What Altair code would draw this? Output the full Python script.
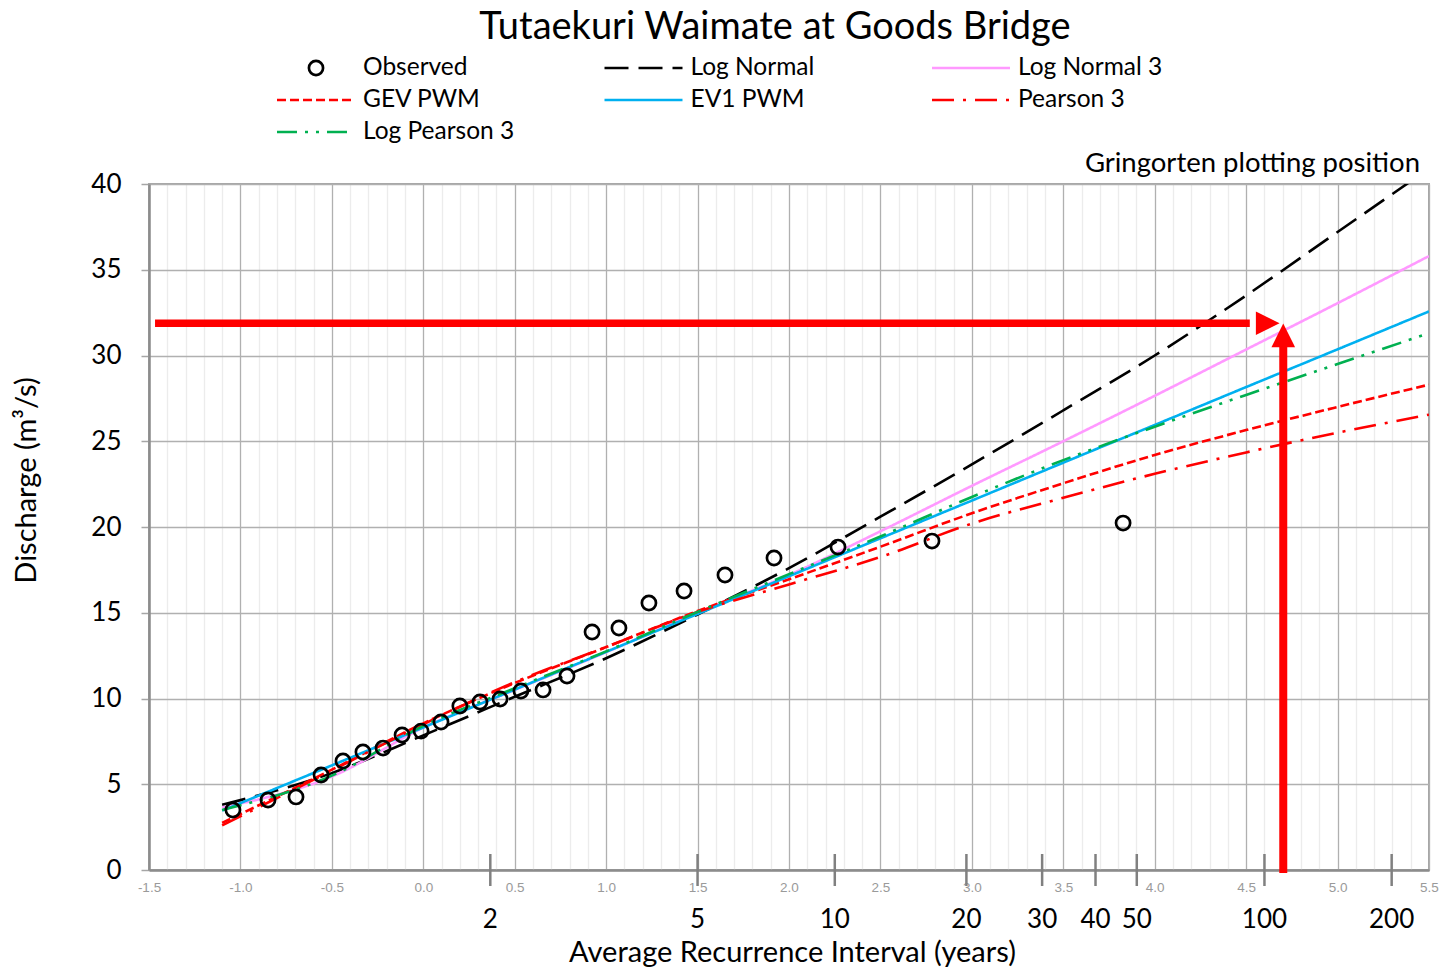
import altair as alt
import pandas as pd

# ---------------- text ----------------
title_text = "Tutaekuri Waimate at Goods Bridge"
x_title = "Average Recurrence Interval (years)"
y_title = "Discharge (m³/s)"
note_text = "Gringorten plotting position"

# ---------------- observed (Gumbel reduced variate, discharge) ----------------
obs_x = [-1.041, -0.849, -0.696, -0.559, -0.439, -0.330, -0.220, -0.116, -0.012, 0.097,
         0.200, 0.310, 0.420, 0.534, 0.655, 0.786, 0.923, 1.070, 1.234, 1.426,
         1.650, 1.918, 2.268, 2.782, 3.827]
obs_q = [3.50, 4.08, 4.26, 5.54, 6.36, 6.88, 7.11, 7.87, 8.10, 8.63,
         9.56, 9.80, 9.97, 10.44, 10.50, 11.31, 13.88, 14.11, 15.57, 16.27,
         17.20, 18.19, 18.83, 19.18, 20.23]

# ---------------- fitted distributions ----------------
fit_x = [-1.1, -0.5, 0.0, 0.5, 1.0, 1.5, 2.0, 2.5, 3.0, 3.5, 4.0, 4.5, 5.0, 5.5]
log_normal = [3.80, 5.65, 7.85, 10.10, 12.35, 14.90, 17.60, 20.60, 23.65, 26.80, 30.00, 33.50, 37.20, 40.90]
log_normal3 = [3.65, 5.45, 8.30, 10.50, 12.70, 15.00, 17.20, 19.75, 22.40, 25.00, 27.65, 30.35, 33.05, 35.80]
gev_pwm = [2.75, 5.85, 8.55, 10.90, 13.00, 15.10, 16.95, 18.85, 20.80, 22.55, 24.20, 25.65, 27.00, 28.30]
ev1_pwm = [3.46, 6.10, 8.31, 10.52, 12.72, 14.93, 17.13, 19.34, 21.54, 23.75, 25.95, 28.16, 30.36, 32.57]
pearson3 = [2.60, 5.80, 8.50, 10.95, 13.00, 15.05, 16.65, 18.25, 20.20, 21.70, 23.10, 24.35, 25.50, 26.55]
log_pearson3 = [3.50, 5.50, 8.40, 10.60, 12.75, 15.05, 17.25, 19.45, 21.75, 23.90, 25.85, 27.70, 29.50, 31.30]

series_names = ["Log Normal", "Log Normal 3", "GEV PWM", "EV1 PWM", "Pearson 3", "Log Pearson 3"]
series_values = [log_normal, log_normal3, gev_pwm, ev1_pwm, pearson3, log_pearson3]
series_colors = ["#000000", "#FF99FF", "#FF0000", "#00B0F0", "#FF0000", "#00B050"]
series_dashes = [[24, 10], [1, 0], [9, 4], [1, 0], [22, 9, 3, 9], [20, 8, 3, 8, 3, 8]]

legend_names = ["Observed", "Log Normal", "Log Normal 3", "GEV PWM", "EV1 PWM", "Pearson 3", "Log Pearson 3"]

# ---------------- secondary ARI axis ----------------
ari_years = [2, 5, 10, 20, 30, 40, 50, 100, 200]

# ---------------- design value arrows ----------------
design_q = 31.88          # horizontal arrow level (m3/s)
design_x = 4.703          # vertical arrow position (reduced variate)
arrow_x_start = -1.467
arrow_h_shaft_end = 4.52
arrow_h_head = 4.618
arrow_v_start = -0.17
arrow_v_shaft_end = 30.5
arrow_v_head = 31.17

grid_vals = [round(-1.5 + 0.1 * i, 1) for i in range(71)]

# ---------------- tables ----------------
obs_df = pd.DataFrame({"x": obs_x, "q": obs_q})
fit_df = pd.DataFrame(
    [{"series": s, "x": xv, "q": qv} for s, vals in zip(series_names, series_values) for xv, qv in zip(fit_x, vals)]
)
ari_df = pd.DataFrame({"T": ari_years, "label": [str(t) for t in ari_years]})
h_arrow_df = pd.DataFrame({"x": [arrow_x_start], "x2": [arrow_h_shaft_end], "q": [design_q]})
v_arrow_df = pd.DataFrame({"x": [design_x], "q": [arrow_v_start], "q2": [arrow_v_shaft_end]})
h_head_df = pd.DataFrame({"x": [arrow_h_head], "q": [design_q]})
v_head_df = pd.DataFrame({"x": [design_x], "q": [arrow_v_head]})

W, H = 1280, 686
FONT = "Lato"

xs = alt.Scale(domain=[-1.5, 5.5], nice=False, zero=False)
ys = alt.Scale(domain=[0, 40], nice=False, zero=False)
color_scale = alt.Scale(domain=series_names, range=series_colors)
dash_scale = alt.Scale(domain=series_names, range=series_dashes)

major_test = "abs(datum.value*2 - round(datum.value*2)) < 0.001"

x_axis = alt.Axis(
    values=grid_vals,
    grid=True,
    gridColor={"condition": {"test": major_test, "value": "#b0b0b0"}, "value": "#ececec"},
    gridWidth=1.3,
    ticks=False,
    domainColor="#8c8c8c",
    domainWidth=2.5,
    labelExpr=major_test + " ? ((datum.value < 0 ? '-' : '') + format(abs(datum.value), '.1f')) : ''",
    labelFont="Liberation Sans",
    labelFontSize=13.5,
    labelColor="#9a9a9a",
    labelPadding=10,
    labelOverlap=False,
    labelFlush=False,
    title=x_title,
    titleFont=FONT,
    titleFontSize=29,
    titleFontWeight="normal",
    titleColor="black",
    titleX=643,
    titleY=91,
    titleBaseline="alphabetic",
)

y_axis = alt.Axis(
    values=[0, 5, 10, 15, 20, 25, 30, 35, 40],
    grid=True,
    gridColor="#b0b0b0",
    gridWidth=1.3,
    ticks=True,
    tickSize=8,
    tickColor="#a6a6a6",
    tickWidth=1.5,
    domainColor="#8c8c8c",
    domainWidth=2.5,
    labelFont=FONT,
    labelFontSize=26,
    labelColor="black",
    labelPadding=20,
    title=y_title,
    titleFont=FONT,
    titleFontSize=29,
    titleFontWeight="normal",
    titleColor="black",
    titleX=-123,
    titleY=296,
    titleBaseline="middle",
)


def X(field):
    return alt.X(field, scale=xs, axis=x_axis)


def Y(field):
    return alt.Y(field, scale=ys, axis=y_axis)


lines = alt.Chart(fit_df).mark_line(strokeWidth=2.6, clip=True, interpolate="monotone").encode(
    x=X("x:Q"),
    y=Y("q:Q"),
    color=alt.Color("series:N", scale=color_scale, legend=None),
    strokeDash=alt.StrokeDash("series:N", scale=dash_scale, legend=None),
)

points = alt.Chart(obs_df).mark_point(filled=False, stroke="black", strokeWidth=2.7, size=200, opacity=1).encode(
    x=X("x:Q"),
    y=Y("q:Q"),
)

ari_ticks = alt.Chart(ari_df).transform_calculate(
    pos="-log(-log(1 - 1/datum.T))"
).mark_rule(color="#808080", strokeWidth=2.5).encode(
    x=X("pos:Q"),
    y=alt.value(H - 16),
    y2=alt.value(H + 16),
)

ari_labels = alt.Chart(ari_df).transform_calculate(
    pos="-log(-log(1 - 1/datum.T))"
).mark_text(font=FONT, fontSize=26, color="black", baseline="middle", align="center").encode(
    x=X("pos:Q"),
    y=alt.value(H + 50),
    text="label:N",
)

h_arrow = alt.Chart(h_arrow_df).mark_rule(color="#FF0000", strokeWidth=7.5).encode(
    x=X("x:Q"),
    x2="x2:Q",
    y=Y("q:Q"),
)
v_arrow = alt.Chart(v_arrow_df).mark_rule(color="#FF0000", strokeWidth=8).encode(
    x=X("x:Q"),
    y=Y("q:Q"),
    y2="q2:Q",
)
h_head = alt.Chart(h_head_df).mark_point(
    shape="M-1,-1L1,0L-1,1Z", filled=True, color="#FF0000", size=560, opacity=1
).encode(
    x=X("x:Q"),
    y=Y("q:Q"),
)
v_head = alt.Chart(v_head_df).mark_point(
    shape="M-1,1L0,-1L1,1Z", filled=True, color="#FF0000", size=560, opacity=1
).encode(
    x=X("x:Q"),
    y=Y("q:Q"),
)

# ---------------- legend (one small layer per entry, laid out on a 3-column grid) ----------------
legend_layers = []
for i, name in enumerate(legend_names):
    col, row = i % 3, i // 3
    lx = 128 + col * 327.5
    ly = -116 + row * 32
    entry = alt.Chart(pd.DataFrame({"series": [name]}))
    if name == "Observed":
        legend_layers.append(
            entry.mark_point(filled=False, stroke="black", strokeWidth=2.7, size=200, opacity=1).encode(
                x=alt.value(lx + 39), y=alt.value(ly)
            )
        )
    else:
        legend_layers.append(
            entry.mark_rule(strokeWidth=2.6).encode(
                x=alt.value(lx), x2=alt.value(lx + 78), y=alt.value(ly),
                color=alt.Color("series:N", scale=color_scale, legend=None),
                strokeDash=alt.StrokeDash("series:N", scale=dash_scale, legend=None),
            )
        )
    legend_layers.append(
        entry.mark_text(font=FONT, fontSize=24.5, color="black", align="left", baseline="middle").encode(
            x=alt.value(lx + 86), y=alt.value(ly), text="series:N"
        )
    )

title_mark = alt.Chart(pd.DataFrame({"t": [title_text]})).mark_text(
    font=FONT, fontSize=38, color="black", align="center", baseline="alphabetic"
).encode(x=alt.value(626), y=alt.value(-145), text="t:N")

note_mark = alt.Chart(pd.DataFrame({"t": [note_text]})).mark_text(
    font=FONT, fontSize=27.5, color="black", align="right", baseline="alphabetic"
).encode(x=alt.value(1271), y=alt.value(-12), text="t:N")

chart = alt.layer(
    lines, ari_ticks, ari_labels, points, h_arrow, v_arrow, h_head, v_head,
    *legend_layers, title_mark, note_mark,
).properties(
    width=W,
    height=H,
    autosize=alt.AutoSizeParams(type="none"),
    padding={"left": 141, "top": 176, "right": 16, "bottom": 100},
).configure(
    font=FONT,
).configure_view(
    stroke="#a6a6a6",
    strokeWidth=2,
)

chart.save("out.html", embed_options={"renderer": "svg", "actions": False})
